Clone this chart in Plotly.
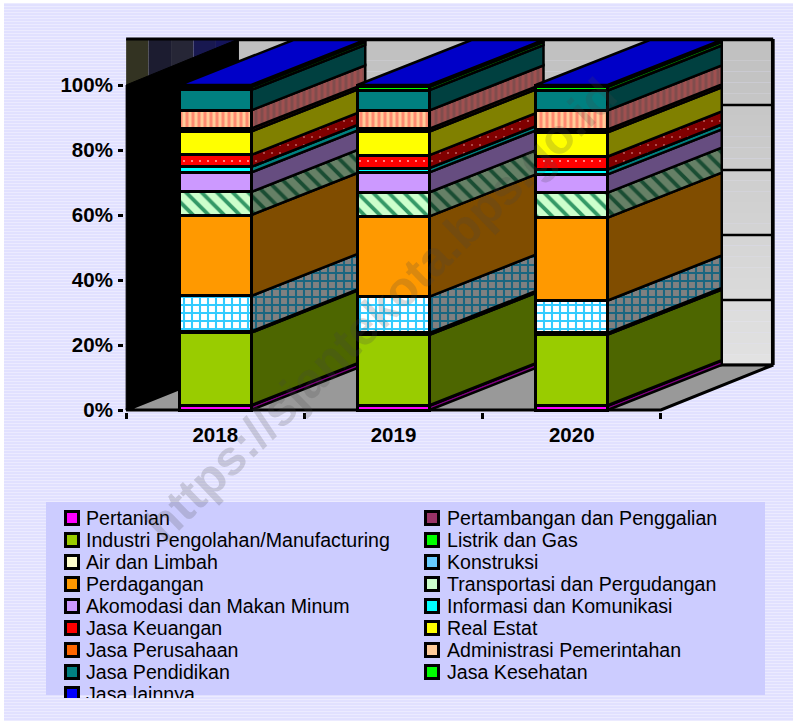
import plotly.graph_objects as go

# ---------- data ----------
YEARS = ["2018", "2019", "2020"]
Y_TICKS = [0, 20, 40, 60, 80, 100]
Y_LABELS = ["0%", "20%", "40%", "60%", "80%", "100%"]

PERTANIAN = [1.3, 1.3, 1.3]
PERTAMBANGAN = [0.2, 0.2, 0.2]
INDUSTRI = [22.3, 21.6, 21.7]
LISTRIK = [0.2, 0.3, 0.25]
AIR = [0.2, 0.3, 0.25]
KONSTRUKSI = [10.9, 11.2, 10.0]
PERDAGANGAN = [24.9, 24.7, 25.5]
TRANSPORTASI = [7.1, 7.4, 7.7]
AKOMODASI = [6.0, 6.1, 5.6]
INFORMASI = [1.7, 1.3, 1.5]
KEUANGAN = [3.7, 4.0, 4.0]
REAL_ESTAT = [7.2, 7.3, 7.4]
PERUSAHAAN = [0.9, 0.9, 0.9]
ADMINISTRASI = [5.6, 5.6, 5.9]
PENDIDIKAN = [6.3, 6.2, 6.1]
KESEHATAN = [0.9, 1.0, 1.1]
LAINNYA = [0.6, 0.6, 0.6]

NAMES = ["Pertanian", "Pertambangan dan Penggalian", "Industri Pengolahan/Manufacturing",
         "Listrik dan Gas", "Air dan Limbah", "Konstruksi", "Perdagangan",
         "Transportasi dan Pergudangan", "Akomodasi dan Makan Minum",
         "Informasi dan Komunikasi", "Jasa Keuangan", "Real Estat", "Jasa Perusahaan",
         "Administrasi Pemerintahan", "Jasa Pendidikan", "Jasa Kesehatan", "Jasa lainnya"]
VALUES = [PERTANIAN, PERTAMBANGAN, INDUSTRI, LISTRIK, AIR, KONSTRUKSI, PERDAGANGAN,
          TRANSPORTASI, AKOMODASI, INFORMASI, KEUANGAN, REAL_ESTAT, PERUSAHAAN,
          ADMINISTRASI, PENDIDIKAN, KESEHATAN, LAINNYA]
FRONT = ["#ff00ff", "#993366", "#99cc00", "#00ff00", "#ffffcc", "#ffffff", "#ff9900",
         "#ccffcc", "#cc99ff", "#00ffff", "#ff0000", "#ffff00", "#ff6600",
         "#ffcc99", "#008080", "#00ff00", "#0000ff"]
SIDE = ["#800080", "#4d1a33", "#4d6600", "#008000", "#808066", "#808080", "#804d00",
        "#668066", "#664d80", "#008080", "#800000", "#808000", "#803300",
        "#804d4d", "#004040", "#008000", "#000080"]
# series index -> (shape, front fg, side fg, size, solidity)
PATTERNS = {
    5: ("+", "#33ccff", "#1a6680", 8, 0.45),
    7: ("\\", "#339966", "#1a4d33", 11, 0.35),
    10: (".", "#ffb0b0", "#c06060", 8, 0.05),
    13: ("|", "#ff8a70", "#a05050", 6, 0.5),
}

# ---------- geometry ----------
W, H = 793, 721
PX_UNIT_X, PX_UNIT_Y = 178.25, 3.25
X0_PX, Y0_PX = 215.25, 410
BAR_W = 72 / PX_UNIT_X
BAR_DX, WALL_DX = 114 / PX_UNIT_X, 0.63
DY = 45 / PX_UNIT_Y
WALL_TOP = 100.3 + DY
L_EDGE, R_EDGE = -0.5, 2.5
PLOT_L, PLOT_R, PLOT_T, PLOT_B = 124, 776, 37, 412
x_range = [(PLOT_L - X0_PX) / PX_UNIT_X, (PLOT_R - X0_PX) / PX_UNIT_X]
y_range = [(Y0_PX - PLOT_B) / PX_UNIT_Y, (Y0_PX - PLOT_T) / PX_UNIT_Y]
BL = "#000000"


def poly(xs, ys):
    return "M" + " L".join(f"{a},{b}" for a, b in zip(xs, ys)) + " Z"


shapes = []
# page background
shapes.append(dict(type="rect", xref="paper", yref="paper", x0=4 / W, x1=1, y0=0, y1=1 - 3 / H,
                   fillcolor="#ecebff", line_width=0, layer="below"))
stripe = " ".join(f"M{4 / W},{1 - y / H} L1,{1 - y / H}" for y in range(5, H, 3))
shapes.append(dict(type="path", xref="paper", yref="paper", path=stripe,
                   line=dict(color="#d6d6ff", width=1), layer="below"))
# legend panel
shapes.append(dict(type="rect", xref="paper", yref="paper", x0=46 / W, x1=765 / W,
                   y0=1 - 695 / H, y1=1 - 502 / H, fillcolor="#ccccff", line_width=0, layer="below"))


def data_shape(**kw):
    shapes.append(dict(xref="x", yref="y", layer="below", **kw))


# back wall gradient
n_bands = 30
for b in range(n_bands):
    v = int(0xe2 - (0xe2 - 0xc0) * b / (n_bands - 1))
    data_shape(type="rect", x0=L_EDGE + WALL_DX, x1=R_EDGE + WALL_DX,
               y0=DY + (WALL_TOP - DY) * b / n_bands, y1=DY + (WALL_TOP - DY) * (b + 1) / n_bands,
               fillcolor=f"rgb({v},{v},{v})", line_width=0)
# dark patch in upper left corner
PATCH = ["#333322", "#1c1c30", "#262636", "#181850", "#14145a"]
for b, col in enumerate(PATCH):
    data_shape(type="rect", x0=L_EDGE + WALL_DX * b / len(PATCH), x1=L_EDGE + WALL_DX * (b + 1) / len(PATCH),
               y0=90, y1=WALL_TOP, fillcolor=col, line_width=0)
# back wall gridlines
for t in Y_TICKS:
    data_shape(type="line", x0=L_EDGE + WALL_DX, x1=R_EDGE + WALL_DX, y0=t + DY, y1=t + DY,
               line=dict(color=BL, width=2.5))
data_shape(type="line", x0=L_EDGE, x1=R_EDGE + WALL_DX, y0=WALL_TOP, y1=WALL_TOP, line=dict(color=BL, width=3))
data_shape(type="line", x0=R_EDGE + WALL_DX, x1=R_EDGE + WALL_DX, y0=DY, y1=WALL_TOP, line=dict(color=BL, width=3))
data_shape(type="line", x0=R_EDGE + BAR_DX - 0.015, x1=R_EDGE + BAR_DX - 0.015, y0=DY, y1=WALL_TOP,
           line=dict(color=BL, width=2.5))
# left wall
data_shape(type="path", path=poly([L_EDGE, L_EDGE + WALL_DX, L_EDGE + WALL_DX, L_EDGE],
                                  [0, DY, WALL_TOP, 100]),
           fillcolor=BL, line=dict(color=BL, width=1))
# floor
data_shape(type="path", path=poly([L_EDGE, R_EDGE, R_EDGE + WALL_DX, L_EDGE + WALL_DX],
                                  [0, 0, DY, DY]),
           fillcolor="#999999", line=dict(color=BL, width=3))

fig = go.Figure()

# side faces and top (behind the front faces)
base = [0.0, 0.0, 0.0]
for k, (name, vals) in enumerate(zip(NAMES, VALUES)):
    for i in range(3):
        x_f = i + BAR_W / 2
        lo, hi = base[i], base[i] + vals[i]
        tr = dict(x=[x_f, x_f + BAR_DX, x_f + BAR_DX, x_f, x_f],
                  y=[lo, lo + DY, hi + DY, hi, lo],
                  mode="lines", fill="toself", fillcolor=SIDE[k],
                  line=dict(color=BL, width=2.5), showlegend=False, hoverinfo="skip", zorder=0)
        if k in PATTERNS:
            sh, _, fg, sz, sol = PATTERNS[k]
            tr["fillpattern"] = dict(shape=sh, fgcolor=fg, bgcolor=SIDE[k] if k != 5 else "#808080",
                                     size=sz, solidity=sol, fillmode="replace")
        fig.add_trace(go.Scatter(**tr))
        base[i] = hi
for i in range(3):
    xl, xr = i - BAR_W / 2, i + BAR_W / 2
    fig.add_trace(go.Scatter(x=[xl, xr, xr + BAR_DX, xl + BAR_DX, xl],
                             y=[base[i], base[i], base[i] + DY, base[i] + DY, base[i]],
                             mode="lines", fill="toself", fillcolor="#0000c8",
                             line=dict(color=BL, width=2.5), showlegend=False, hoverinfo="skip", zorder=0))

# front faces
for k, (name, vals) in enumerate(zip(NAMES, VALUES)):
    marker = dict(color=FRONT[k], line=dict(color=BL, width=3))
    if k in PATTERNS:
        sh, fg, _, sz, sol = PATTERNS[k]
        marker["pattern"] = dict(shape=sh, fgcolor=fg, bgcolor=FRONT[k], size=sz, solidity=sol, fillmode="replace")
    fig.add_trace(go.Bar(x=[0, 1, 2], y=vals, name=name, width=BAR_W, marker=marker,
                         showlegend=False, zorder=1))

# hand-placed legend in its own clipped subplot (the last row is cut off)
LEG_L, LEG_R, LEG_T, LEG_B = 46, 765, 502, 698
ROW_PX = 22
ROW0_PX = 518
TEXT_DROP = 2.5 / ROW_PX
for col_start, marker_px, text_px in ((0, 72, 86), (1, 432, 447)):
    idx = list(range(col_start, len(NAMES), 2))
    rows = [-(j // 2) for j in idx]
    fig.add_trace(go.Scatter(x=[marker_px] * len(idx), y=rows, mode="markers", xaxis="x2", yaxis="y2",
                             marker=dict(symbol="square", size=13, color=[FRONT[j] if j != 5 else "#66ccff" for j in idx],
                                         line=dict(color=BL, width=3)),
                             showlegend=False, hoverinfo="skip", cliponaxis=True))
    fig.add_trace(go.Scatter(x=[text_px] * len(idx), y=[r - TEXT_DROP for r in rows], mode="text",
                             xaxis="x2", yaxis="y2",
                             text=[NAMES[j] for j in idx], textposition="middle right",
                             textfont=dict(family="Liberation Sans", size=19.6, color=BL),
                             showlegend=False, hoverinfo="skip", cliponaxis=True))

fig.update_layout(
    width=W, height=H, margin=dict(l=0, r=0, t=0, b=0, autoexpand=False), autosize=False,
    paper_bgcolor="#ffffff", plot_bgcolor="rgba(0,0,0,0)", barmode="stack", shapes=shapes,
    xaxis=dict(domain=[PLOT_L / W, PLOT_R / W], range=x_range, showgrid=False, zeroline=False,
               showline=False, tickmode="array", tickvals=[0, 1, 2], ticktext=YEARS, ticks="",
               ticklabelstandoff=8,
               tickfont=dict(family="Liberation Sans", size=20.5, color=BL, weight=700),
               minor=dict(tickmode="array", tickvals=[-0.5, 0.5, 1.5, 2.5], ticks="outside",
                          ticklen=6, tickwidth=2.5, tickcolor=BL, showgrid=False),
               fixedrange=True),
    yaxis=dict(domain=[1 - PLOT_B / H, 1 - PLOT_T / H], range=y_range, showgrid=False, zeroline=False,
               showline=False, tickmode="array", tickvals=Y_TICKS, ticktext=Y_LABELS, ticks="outside",
               ticklen=5, tickwidth=2.5, tickcolor=BL, ticklabelstandoff=1,
               tickfont=dict(family="Liberation Sans", size=20.5, color=BL, weight=700),
               fixedrange=True),
    xaxis2=dict(domain=[LEG_L / W, LEG_R / W], range=[LEG_L, LEG_R], visible=False, anchor="y2", fixedrange=True),
    yaxis2=dict(domain=[1 - LEG_B / H, 1 - LEG_T / H],
                range=[-(LEG_B - ROW0_PX) / ROW_PX, (ROW0_PX - LEG_T) / ROW_PX],
                visible=False, anchor="x2", fixedrange=True),
    annotations=[dict(text="<b>https://sjantekota.bps.go.id</b>", xref="paper", yref="paper",
                      x=380 / W, y=1 - 310 / H, xanchor="center", yanchor="middle", textangle=-44.4,
                      showarrow=False,
                      font=dict(family="Liberation Sans", size=49, color="rgba(70,70,70,0.2)"))],
)

fig.write_html("out.html", config=dict(displayModeBar=False, responsive=False),
               default_width=f"{W}px", default_height=f"{H}px",
               post_script="document.documentElement.style.margin='0';document.body.style.margin='0';document.body.style.padding='0';")
